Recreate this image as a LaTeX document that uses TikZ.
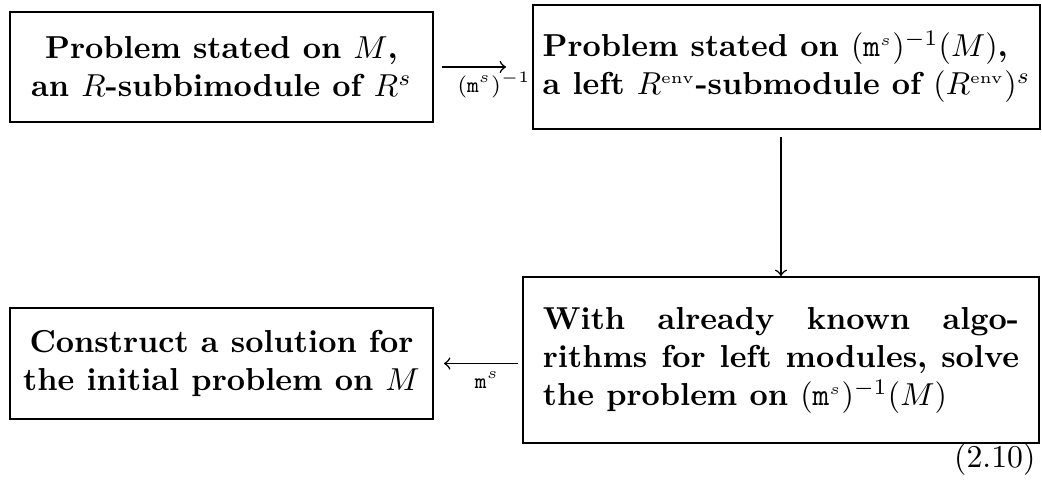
\documentclass[tikz,border=0pt]{standalone}
\usetikzlibrary{calc}
\newcommand{\mms}{\mathtt{m}^{\scriptscriptstyle s}}
\newcommand{\envx}{^{\scriptscriptstyle\rm env}}
\begin{document}
\begin{tikzpicture}[x=0.315pt,y=-0.315pt,
  box/.style={draw,line width=0.6pt,inner sep=0pt,font=\bfseries},
  arr/.style={->,line width=0.5pt},
  lab/.style={inner sep=0pt,font=\scriptsize}]
\useasboundingbox (0,0) rectangle (1042,489);
\node[box,minimum width=423*0.315pt,minimum height=110*0.315pt,align=center] (b1) at (221.5,67)
  {Problem stated on $M$,\\ an $R$-subbimodule of $R^s$};
\node[box,minimum width=507*0.315pt,minimum height=124*0.315pt,align=left] (b2) at (786.5,67)
  {Problem stated on $(\mms)^{-1}(M)$,\\ a left $R\envx$-submodule of $(R\envx)^s$};
\node[box,minimum width=516*0.315pt,minimum height=166*0.315pt] (b3) at (781,360)
  {\begin{tabular}{@{}l@{}}
   \hbox to 150pt{With\hfill already\hfill known\hfill algo-}\\
   \hbox to 150pt{rithms\hfill for\hfill left\hfill modules,\hfill solve}\\
   the problem on $(\mms)^{-1}(M)$
   \end{tabular}};
\node[box,minimum width=423*0.315pt,minimum height=111*0.315pt,align=center] (b4) at (221.5,363.5)
  {Construct a solution for\\ the initial problem on $M$};
\draw[arr] ($(b1.east)+(8,0)$) -- ($(b2.west)+(-26,0)$);
\node[lab] (l1) at (494,85) {$(\mms)^{-1}$};
\coordinate (a2s) at ($(b2.south)+(0,7)$);
\draw[arr] (a2s -| b3.north) -- (b3.north);
\draw[arr] ($(b4.east)+(84,0)$) -- ($(b4.east)+(10,0)$);
\node[lab] (l2) at (487,380) {$\mms$};
\node[inner sep=0pt,anchor=east] (eq) at (1036,460) {(2.10)};
\end{tikzpicture}
\end{document}
